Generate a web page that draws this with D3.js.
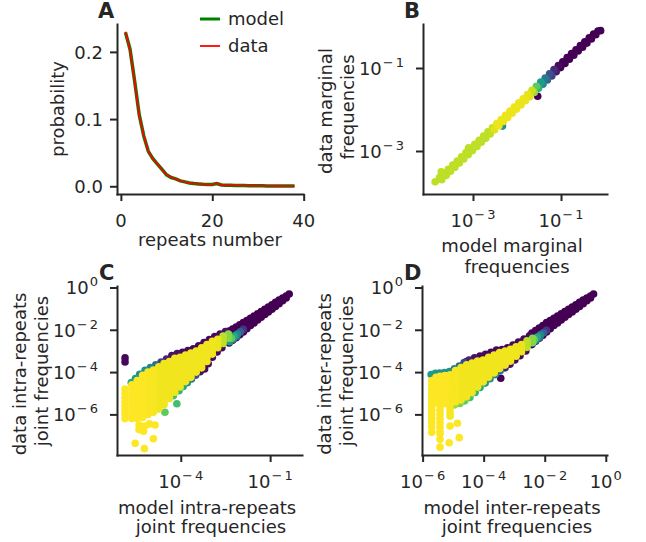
<!DOCTYPE html>
<meta charset="utf-8">
<title>Repeats: model vs data frequencies</title>
<style type="text/css">
  body {margin: 0; background: #fff;}
  text {font-family: "DejaVu Sans", sans-serif; fill: #262626;}
</style>
<body>
<div id="fig"></div>
<script src="https://d3js.org/d3.v7.min.js"></script>
<script>
// ---- panel A: repeat-number distribution ----
var repeatsN = [1,2,3,4,5,6,7,8,9,10,11,12,13,14,15,16,17,18,19,20,
                21,22,23,24,25,26,27,28,29,30,31,32,33,34,35,36,37,38];
var probData = [0.230,0.203,0.156,0.106,0.075,0.052,0.041,0.033,0.025,0.017,
                0.013,0.011,0.008,0.0065,0.0048,0.004,0.0035,0.003,0.0026,0.0025,
                0.0045,0.0018,0.0015,0.0014,0.0013,0.0012,0.001,0.0009,0.0008,0.0007,
                0.0006,0.0005,0.0005,0.0004,0.0004,0.0003,0.0003,0.0003];
var probModel = [0.229,0.204,0.157,0.107,0.075,0.052,0.041,0.033,0.025,0.017,
                 0.013,0.011,0.008,0.0066,0.0049,0.004,0.0035,0.003,0.0027,0.0026,
                 0.004,0.0019,0.0015,0.0014,0.0013,0.0012,0.001,0.0009,0.0008,0.0007,
                 0.0006,0.0005,0.0005,0.0004,0.0004,0.0003,0.0003,0.0003];
var ticksAx = [0, 20, 40];
var ticksAy = [0.0, 0.1, 0.2];

// ---- scatter panels: [log10 model, log10 data, colour level 0..1] ----
var bPts = [
  [-3.86,-3.74,.9],[-3.76,-3.64,.9],[-3.66,-3.54,.9],[-3.56,-3.44,.9],[-3.46,-3.34,.9],
  [-3.36,-3.24,.9],[-3.26,-3.14,.9],[-3.16,-3.04,.9],[-3.06,-2.94,.9],[-2.96,-2.84,.9],
  [-2.86,-2.74,.9],[-2.76,-2.64,.9],[-2.66,-2.54,.9],[-2.56,-2.44,.92],[-2.46,-2.34,.97],
  [-2.36,-2.24,.97],[-2.26,-2.14,.97],[-2.16,-2.04,.97],[-2.06,-1.94,.97],[-1.96,-1.84,.97],
  [-1.86,-1.74,.97],[-1.76,-1.64,.96],[-1.66,-1.54,.92],[-1.56,-1.44,.75],[-1.46,-1.34,.55],
  [-1.36,-1.24,.4],[-1.26,-1.14,.25],[-1.16,-1.04,.12],[-1.06,-0.94,.03],[-0.96,-0.85,0],
  [-0.86,-0.75,0],[-0.76,-0.65,0],[-0.66,-0.56,0],[-0.56,-0.46,0],[-0.46,-0.37,0],
  [-0.36,-0.27,0],[-0.26,-0.18,0],[-0.16,-0.11,0],[-0.1,-0.1,0],
  [-3.71,-3.69,.9],[-3.61,-3.59,.9],[-3.51,-3.49,.9],[-3.41,-3.39,.9],[-3.31,-3.29,.9],
  [-3.21,-3.19,.9],[-3.11,-3.09,.9],[-3.01,-2.99,.9],[-2.91,-2.89,.9],[-2.81,-2.79,.9],
  [-2.71,-2.69,.9],[-2.61,-2.59,.91],[-2.51,-2.49,.95],[-2.41,-2.39,.97],[-2.31,-2.29,.97],
  [-2.21,-2.19,.97],[-2.11,-2.09,.97],[-2.01,-1.99,.97],[-1.91,-1.89,.97],[-1.81,-1.79,.97],
  [-1.71,-1.69,.95],[-1.61,-1.59,.85],[-1.51,-1.49,.65],[-1.41,-1.39,.48],[-1.31,-1.29,.33],
  [-1.21,-1.19,.18],[-1.11,-1.09,.07],[-1.01,-0.99,0],[-0.91,-0.89,0],[-0.81,-0.79,0],
  [-0.71,-0.69,0],[-0.61,-0.59,0],[-0.51,-0.5,0],[-0.41,-0.4,0],[-0.31,-0.3,0],[-0.21,-0.2,0],
  [-3.72,-3.5,.9],[-3.1,-2.92,.9],[-2.33,-2.4,.5],[-1.53,-1.68,0]
];

// panel C
var cDiag = [
  [-0.36,-0.31,0],[-0.46,-0.4,0],[-0.46,-0.5,0],[-0.58,-0.5,0],[-0.58,-0.63,0],[-0.7,-0.6,0],
  [-0.7,-0.77,0],[-0.82,-0.7,0],[-0.82,-0.9,0],[-0.94,-0.82,0],[-0.94,-1.03,0],[-1.06,-0.93,0],
  [-1.06,-1.16,0],[-1.18,-1.03,0],[-1.18,-1.28,0],[-1.3,-1.14,0],[-1.3,-1.41,0],[-1.42,-1.25,0],
  [-1.42,-1.54,0],[-1.54,-1.35,0],[-1.54,-1.68,0],[-1.66,-1.46,0],[-1.66,-1.8,0],[-1.78,-1.56,0],
  [-1.78,-1.76,0],[-1.78,-1.95,0],[-1.9,-1.66,0],[-1.9,-1.88,0],[-1.9,-2.1,0],[-2.02,-1.76,0],
  [-2.02,-2.0,0],[-2.02,-2.24,0],[-2.14,-1.87,0],[-2.14,-2.12,0],[-2.14,-2.38,0],[-2.26,-1.97,0],
  [-2.26,-2.24,0],[-2.26,-2.5,0],[-2.38,-2.06,0],[-2.38,-2.62,0],
  [-1.9,-1.98,.15],[-2.0,-2.1,.3],[-2.1,-2.2,.45],[-2.2,-2.3,.6],[-2.3,-2.4,.75],[-2.12,-2.32,.35],
  [-2.24,-2.45,.45],[-2.36,-2.56,.55]
];
var cCore = [
  [-2.4, .82, [-2.2,-2.4]],
  [-2.58, .9, [-2.3,-2.5,-2.65]],
  [-2.76, .97, [-2.45,-2.65,-2.85]],
  [-2.94, .98, [-2.55,-2.75,-2.95,-3.15]],
  [-3.12, .98, [-2.7,-2.9,-3.1,-3.3,-3.5]],
  [-3.3, .98, [-2.85,-3.05,-3.25,-3.45,-3.65,-3.8]],
  [-3.48, .98, [-3.0,-3.2,-3.4,-3.6,-3.8,-4.0]],
  [-3.66, .98, [-3.1,-3.3,-3.5,-3.7,-3.9,-4.1,-4.25]],
  [-3.84, .98, [-3.2,-3.4,-3.6,-3.8,-4.0,-4.2,-4.45]],
  [-4.02, .98, [-3.3,-3.5,-3.7,-3.9,-4.1,-4.3,-4.5,-4.7]],
  [-4.2, .98, [-3.35,-3.55,-3.75,-3.95,-4.15,-4.35,-4.55,-4.75,-4.95]],
  [-4.38, .98, [-3.5,-3.7,-3.9,-4.1,-4.3,-4.5,-4.7,-4.9,-5.1,-5.25]],
  [-4.56, .98, [-3.6,-3.8,-4.0,-4.2,-4.4,-4.6,-4.8,-5.0,-5.2,-5.4,-5.55]],
  [-4.74, .98, [-3.75,-3.95,-4.15,-4.35,-4.55,-4.75,-4.95,-5.15,-5.35,-5.55,-5.75]],
  [-4.92, .99, [-3.9,-4.1,-4.3,-4.5,-4.7,-4.9,-5.1,-5.3,-5.5,-5.7,-5.9]],
  [-5.1, .99, [-4.0,-4.2,-4.4,-4.6,-4.8,-5.0,-5.2,-5.4,-5.6,-5.8,-6.0]],
  [-5.28, 1, [-4.15,-4.35,-4.55,-4.75,-4.95,-5.15,-5.35,-5.55,-5.75,-5.95,-6.15]],
  [-5.46, 1, [-4.4,-4.6,-4.8,-5.0,-5.2,-5.4,-5.6,-5.8,-6.0,-6.2]],
  [-5.64, 1, [-4.6,-4.8,-5.0,-5.2,-5.4,-5.6,-5.8,-6.0,-6.2]],
  [-5.87, 1, [-4.8,-5.0,-5.2,-5.4,-5.6,-5.8,-6.0,-6.2]]
];
var cEdge = [
  [-2.5,-2.08,.05],[-2.68,-2.2,.03],[-2.86,-2.32,.03],[-3.04,-2.46,.03],[-3.22,-2.6,.03],
  [-3.4,-2.76,.03],[-3.58,-2.9,.03],[-3.76,-2.98,.03],[-3.94,-3.06,.03],[-4.12,-3.12,.05],
  [-4.3,-3.22,.05],[-4.48,-3.38,.1],[-4.66,-3.52,.2],
  [-4.84,-3.66,.35],[-5.02,-3.78,.45],[-5.2,-3.92,.5],[-5.38,-4.1,.5],[-5.52,-4.3,.55],[-5.66,-4.5,.6],
  [-2.62,-2.85,.03],[-2.78,-3.05,.03],[-2.94,-3.3,.03],[-3.08,-3.6,.03],[-3.2,-3.85,.03],[-3.35,-3.98,.05],
  [-3.5,-4.15,.25],[-3.64,-4.33,.4],[-3.78,-4.5,.5],
  [-3.92,-4.68,.6],[-4.06,-4.88,.65],[-4.25,-5.12,.7],[-4.13,-5.5,.7],[-4.53,-5.9,.75],
  [-5.87,-3.33,.02],[-5.87,-3.52,.02]
];
var cSparse = [
  [-5.4,-6.5,1],[-5.4,-6.72,1],[-5.2,-6.55,1],[-5.05,-6.45,1],[-5.25,-6.8,1],
  [-4.86,-6.5,1],[-4.92,-7.15,1],[-5.53,-7.37,1],[-5.22,-7.62,1]
];

// panel D
var dDiag = [
  [-0.4,-0.31,0],[-0.5,-0.4,0],[-0.5,-0.5,0],[-0.62,-0.5,0],[-0.62,-0.63,0],[-0.74,-0.6,0],
  [-0.74,-0.77,0],[-0.86,-0.7,0],[-0.86,-0.9,0],[-0.98,-0.82,0],[-0.98,-1.03,0],[-1.1,-0.93,0],
  [-1.1,-1.16,0],[-1.22,-1.03,0],[-1.22,-1.28,0],[-1.34,-1.14,0],[-1.34,-1.41,0],[-1.46,-1.25,0],
  [-1.46,-1.54,0],[-1.58,-1.35,0],[-1.58,-1.68,0],[-1.7,-1.46,0],[-1.7,-1.8,0],[-1.82,-1.56,0],
  [-1.82,-1.76,0],[-1.82,-1.95,0],[-1.94,-1.66,0],[-1.94,-1.88,0],[-1.94,-2.1,0],[-2.06,-1.8,0],
  [-2.06,-2.02,0],[-2.06,-2.26,0],[-2.18,-1.92,0],[-2.18,-2.15,0],[-2.18,-2.4,0],[-2.3,-2.04,0],
  [-2.3,-2.28,0],[-2.3,-2.54,0],[-2.42,-2.16,0],[-2.42,-2.7,0],
  [-1.94,-2.02,.15],[-2.04,-2.14,.3],[-2.14,-2.24,.45],[-2.24,-2.34,.6],[-2.34,-2.46,.75],[-2.16,-2.36,.35],
  [-2.28,-2.5,.45],[-2.4,-2.62,.55]
];
var dCore = [
  [-2.4, .82, [-2.4,-2.6]],
  [-2.58, .9, [-2.52,-2.7,-2.83]],
  [-2.76, .97, [-2.7,-2.9,-3.04]],
  [-2.94, .98, [-2.8,-3.0,-3.2,-3.25]],
  [-3.12, .98, [-2.92,-3.12,-3.32,-3.48]],
  [-3.3, .98, [-3.0,-3.2,-3.4,-3.6,-3.67]],
  [-3.48, .98, [-3.08,-3.28,-3.48,-3.68,-3.83]],
  [-3.66, .98, [-3.2,-3.4,-3.6,-3.8,-4.0,-4.04]],
  [-3.84, .98, [-3.3,-3.5,-3.7,-3.9,-4.1,-4.24]],
  [-4.02, .98, [-3.43,-3.63,-3.83,-4.03,-4.23,-4.43,-4.47]],
  [-4.2, .98, [-3.48,-3.68,-3.88,-4.08,-4.28,-4.48,-4.68,-4.71]],
  [-4.38, .98, [-3.57,-3.77,-3.97,-4.17,-4.37,-4.57,-4.77,-4.97]],
  [-4.56, .98, [-3.65,-3.85,-4.05,-4.25,-4.45,-4.65,-4.85,-5.05,-5.17]],
  [-4.74, .98, [-3.78,-3.98,-4.18,-4.38,-4.58,-4.78,-4.98,-5.18,-5.32]],
  [-4.92, .99, [-3.93,-4.13,-4.33,-4.53,-4.73,-4.93,-5.13,-5.33,-5.4]],
  [-5.1, .99, [-4.13,-4.33,-4.53,-4.73,-4.93,-5.13,-5.33,-5.53,-5.73,-5.93,-6.08]],
  [-5.27, 1, [-4.16,-4.36,-4.56,-4.76,-4.96,-5.16,-5.36,-5.5]],
  [-5.43, 1, [-4.2,-4.4,-4.6,-4.8,-5.0,-5.2,-5.4,-5.6,-5.8,-6.0,-6.2,-6.4,-6.6,-6.8,-6.92]],
  [-5.56, 1, [-4.25,-4.45,-4.65,-4.85,-5.05,-5.25,-5.45]],
  [-5.7, 1, [-4.4,-4.6,-4.8,-5.0,-5.2,-5.4,-5.6,-5.8,-6.0,-6.2,-6.4,-6.6,-6.85]]
];
var dEdge = [
  [-2.5,-2.28,.03],[-2.68,-2.44,.03],[-2.86,-2.58,.03],[-3.04,-2.72,.03],[-3.22,-2.85,.03],
  [-3.4,-2.93,.03],[-3.58,-2.96,.03],[-3.76,-3.06,.03],[-3.94,-3.16,.03],[-4.12,-3.24,.03],
  [-4.3,-3.32,.05],[-4.48,-3.43,.1],[-4.56,-3.5,.03],[-4.64,-3.55,.2],
  [-4.8,-3.72,.35],[-4.96,-3.85,.45],[-5.12,-3.98,.5],[-5.28,-4.02,.5],[-5.44,-4.04,.5],
  [-5.58,-4.06,.52],[-5.72,-4.12,.55],
  [-2.62,-3.0,.03],[-2.81,-3.23,.03],[-2.98,-3.43,.03],[-3.14,-3.63,.05],[-3.3,-3.8,.1],
  [-3.46,-3.94,.35],[-3.62,-4.12,.45],[-3.79,-4.31,.5],[-3.95,-4.52,.55],[-4.12,-4.73,.6],
  [-4.28,-4.96,.65],[-4.45,-5.2,.7],[-4.62,-5.36,.75],[-4.78,-5.48,.8],[-4.95,-5.55,.85],
  [-3.44,-4.29,0]
];
var dSparse = [
  [-5.43,-7.18,1],[-5.43,-7.55,1],[-5.13,-7.34,1],[-5.1,-6.55,1],[-4.86,-6.42,1],[-4.8,-7.1,1]
];

var ticksB = [-3, -1];
var ticksCx = [-4, -1];
var ticksDx = [-6, -4, -2, 0];
var ticksCDy = [0, -2, -4, -6];

// ---- drawing ----
var ink = "#262626";
var svg = d3.select("#fig").append("svg").attr("width", 646).attr("height", 542);

var xA = d3.scaleLinear().domain([-0.85, 39.85]).range([117, 303]);
var yA = d3.scaleLinear().domain([-0.0115, 0.2415]).range([194, 24]);
var xB = d3.scaleLog().domain([Math.pow(10, -4.136), Math.pow(10, 0.045)]).range([423, 607]);
var yB = d3.scaleLog().domain([Math.pow(10, -4.036), Math.pow(10, 0.06)]).range([194, 24]);
var xC = d3.scaleLog().domain([Math.pow(10, -6.14), Math.pow(10, 0.07)]).range([117, 302]);
var yC = d3.scaleLog().domain([Math.pow(10, -7.92), Math.pow(10, 0.07)]).range([455, 286]);
var xD = d3.scaleLog().domain([Math.pow(10, -6.02), Math.pow(10, 0.04)]).range([422, 607]);
var yD = d3.scaleLog().domain([Math.pow(10, -7.92), Math.pow(10, 0.07)]).range([455, 286]);

function styleAxis(g) {
  g.select(".domain").attr("stroke", ink).attr("stroke-width", 2).attr("stroke-linecap", "square");
  g.selectAll(".tick line").attr("stroke", ink).attr("stroke-width", 2);
}

// "10" with a raised exponent, spaced like matplotlib mathtext
function addSup(t, e) {
  t.append("tspan").text("10");
  if (e < 0) {
    t.append("tspan").attr("dy", -8).attr("dx", 1).attr("font-size", 13).text("\u2212");
    t.append("tspan").attr("dx", 2).attr("font-size", 13).text(String(-e));
  } else {
    t.append("tspan").attr("dy", -8).attr("dx", 1).attr("font-size", 13).text(String(e));
  }
}

// x axis: ticks given as values (linear) or exponents (log)
function bottomAxis(scale, y0, ticks, isLog) {
  var vals = ticks.map(function(t) { return isLog ? Math.pow(10, t) : t; });
  var g = svg.append("g").attr("transform", "translate(0," + y0 + ")")
    .call(d3.axisBottom(scale).tickValues(vals).tickSize(7).tickSizeOuter(0).tickFormat(""));
  styleAxis(g);
  ticks.forEach(function(t, i) {
    var txt = svg.append("text").attr("x", scale(vals[i])).attr("y", y0 + 33)
      .attr("text-anchor", "middle").attr("font-size", 18);
    if (isLog) addSup(txt, t); else txt.text(t);
  });
}

function leftAxis(scale, x0, ticks, isLog, fmt) {
  var vals = ticks.map(function(t) { return isLog ? Math.pow(10, t) : t; });
  var g = svg.append("g").attr("transform", "translate(" + x0 + ",0)")
    .call(d3.axisLeft(scale).tickValues(vals).tickSize(7).tickSizeOuter(0).tickFormat(""));
  styleAxis(g);
  ticks.forEach(function(t, i) {
    var txt = svg.append("text").attr("x", x0 - (isLog ? 19 : 14)).attr("y", scale(vals[i]) + 7)
      .attr("text-anchor", "end").attr("font-size", 18);
    if (isLog) addSup(txt, t); else txt.text(fmt(t));
  });
}

// lines: [text, x, y]; rotated labels read bottom to top
function label(lines, rotate) {
  lines.forEach(function(l) {
    var t = svg.append("text").attr("x", l[1]).attr("y", l[2]).attr("font-size", 18)
      .attr("text-anchor", "middle").text(l[0]);
    if (rotate) t.attr("transform", "rotate(-90," + l[1] + "," + l[2] + ")");
  });
}

function letter(ch, x, y) {
  svg.append("text").attr("x", x).attr("y", y).attr("font-size", 21)
    .attr("font-weight", "bold").text(ch);
}

function scatter(xs, ys, pts) {
  var sorted = pts.slice().sort(function(a, b) { return a[2] - b[2]; });
  svg.append("g").selectAll("circle").data(sorted).enter().append("circle")
    .attr("cx", function(d) { return xs(Math.pow(10, d[0])); })
    .attr("cy", function(d) { return ys(Math.pow(10, d[1])); })
    .attr("r", 3.8)
    .attr("fill", function(d) { return d3.interpolateViridis(d[2]); });
}

function fromColumns(cols) {
  var out = [];
  cols.forEach(function(c) { c[2].forEach(function(y) { out.push([c[0], y, c[1]]); }); });
  return out;
}

// Panel A
var line = d3.line().x(function(d) { return xA(d[0]); }).y(function(d) { return yA(d[1]); });
svg.append("path").datum(repeatsN.map(function(r, i) { return [r, probModel[i]]; }))
  .attr("d", line).attr("fill", "none").attr("stroke", "#008000").attr("stroke-width", 3.5);
svg.append("path").datum(repeatsN.map(function(r, i) { return [r, probData[i]]; }))
  .attr("d", line).attr("fill", "none").attr("stroke", "#ff0000").attr("stroke-width", 1.8);
bottomAxis(xA, 194, ticksAx, false);
leftAxis(yA, 117, ticksAy, false, d3.format(".1f"));
label([["repeats number", 210, 246]]);
label([["probability", 64, 109]], true);
letter("A", 98, 18);
// legend
svg.append("line").attr("x1", 200).attr("x2", 220).attr("y1", 19).attr("y2", 19)
  .attr("stroke", "#008000").attr("stroke-width", 3);
svg.append("line").attr("x1", 200).attr("x2", 220).attr("y1", 46).attr("y2", 46)
  .attr("stroke", "#ff0000").attr("stroke-width", 1.8);
svg.append("text").attr("x", 228).attr("y", 25).attr("font-size", 18).text("model");
svg.append("text").attr("x", 228).attr("y", 52).attr("font-size", 18).text("data");

// Panel B
scatter(xB, yB, bPts);
bottomAxis(xB, 194, ticksB, true);
leftAxis(yB, 423, ticksB, true);
label([["model marginal", 512, 252], ["frequencies", 517, 273]]);
label([["data marginal", 332, 111], ["frequencies", 354, 107]], true);
letter("B", 404, 18);

// Panel C
scatter(xC, yC, cDiag.concat(fromColumns(cCore), cEdge, cSparse));
bottomAxis(xC, 455, ticksCx, true);
leftAxis(yC, 117, ticksCDy, true);
label([["model intra-repeats", 207, 514], ["joint frequencies", 211, 533]]);
label([["data intra-repeats", 26, 374], ["joint frequencies", 48, 371]], true);
letter("C", 99, 280);

// Panel D
scatter(xD, yD, dDiag.concat(fromColumns(dCore), dEdge, dSparse));
bottomAxis(xD, 455, ticksDx, true);
leftAxis(yD, 422, ticksCDy, true);
label([["model inter-repeats", 512, 514], ["joint frequencies", 517, 533]]);
label([["data inter-repeats", 331, 374], ["joint frequencies", 353, 371]], true);
letter("D", 404, 280);
</script>
</body>
